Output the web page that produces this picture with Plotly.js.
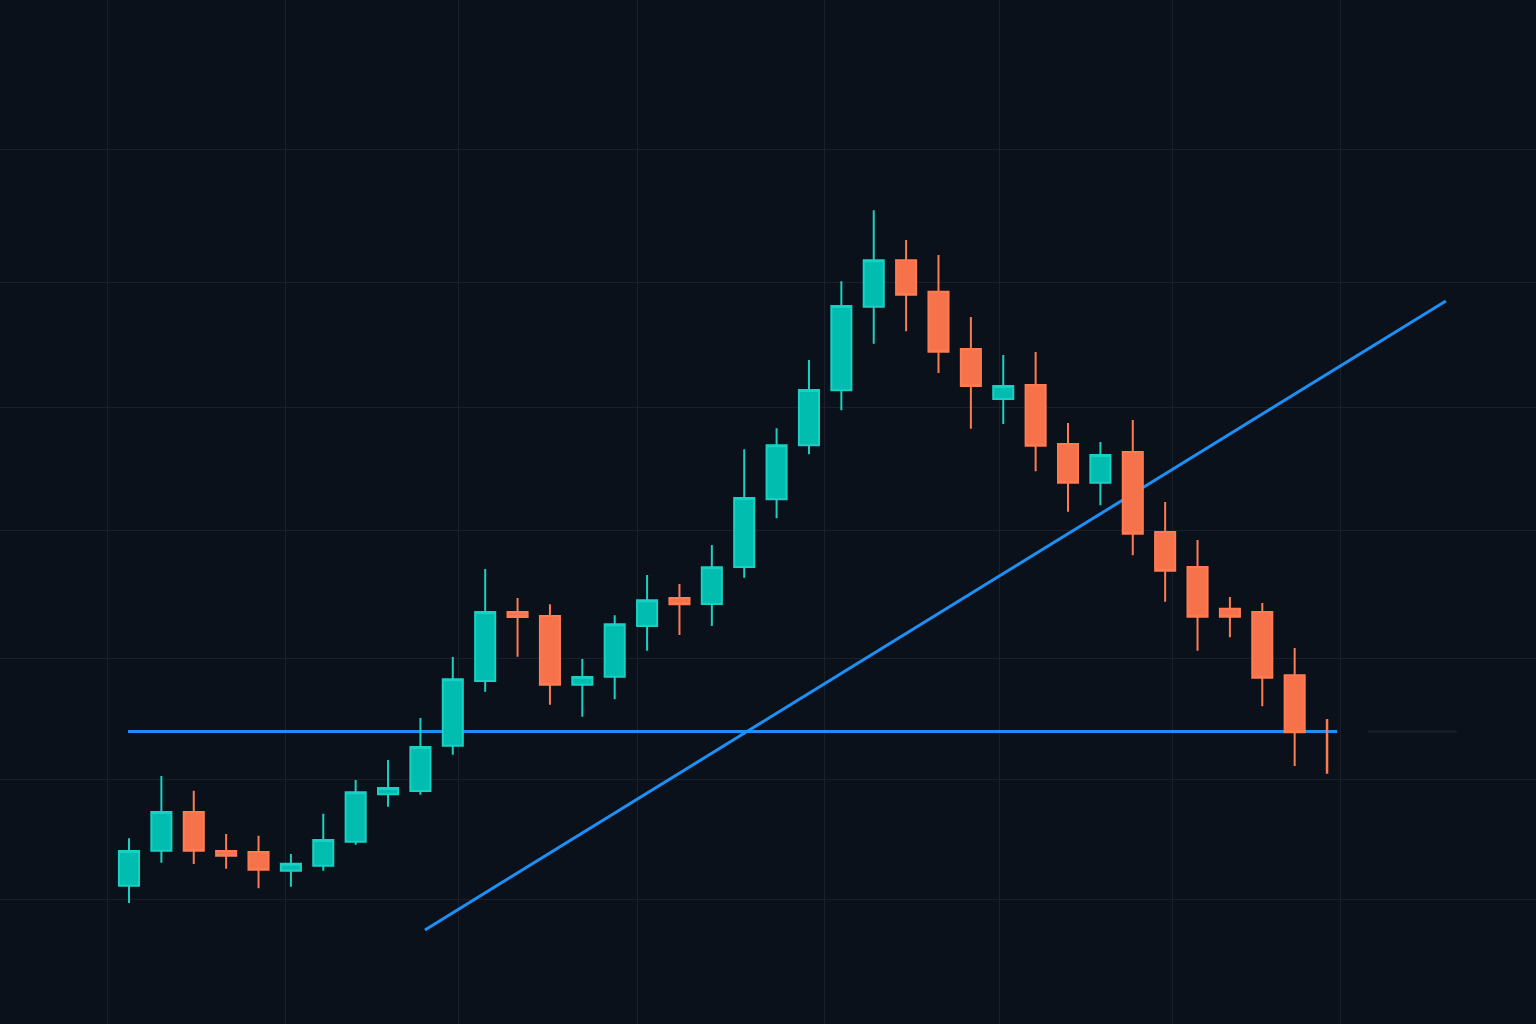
<!DOCTYPE html>
<html>
<head>
<meta charset="utf-8">
<script src="https://cdn.plot.ly/plotly-3.0.1.min.js"></script>
<style>
  html, body { margin: 0; padding: 0; background: #0b111a; }
  #chart { width: 1536px; height: 1024px; }
</style>
</head>
<body>
<div id="chart"></div>
<script>
// Candle index (session number)
const sessions = [0,1,2,3,4,5,6,7,8,9,10,11,12,13,14,15,16,17,18,19,20,21,22,23,24,25,26,27,28,29,30,31,32,33,34,35,36,37];

const opens  = [101.07,103.88,106.98,103.85,103.77,102.28,102.68,104.60,108.39,108.66,
                112.29,117.47,122.99,122.67,117.17,117.81,121.87,124.11,123.63,126.60,
                132.02,136.34,140.74,147.44,151.15,148.64,144.05,140.05,141.17,136.45,
                133.35,135.80,129.40,126.60,123.26,122.99,117.92,113.42];
const highs  = [104.87,109.86,108.68,105.21,105.08,103.61,106.84,109.54,111.14,114.50,
                119.39,126.44,124.11,123.61,119.23,122.73,125.95,125.23,128.36,136.02,
                137.70,143.17,149.47,155.16,152.78,151.58,146.62,143.57,143.81,138.13,
                136.61,138.37,131.80,128.76,124.19,123.71,120.11,114.42];
const lows   = [ 99.69,102.92,102.81,102.44,100.87,100.99,102.28,104.36,107.40,108.36,
                111.56,116.61,119.41,115.57,114.61,116.00,119.89,121.15,121.87,125.74,
                130.50,135.62,139.14,144.48,145.47,142.13,137.67,138.05,134.26,131.02,
                131.54,127.53,123.82,119.89,120.97,115.44,110.66,110.04];
const closes = [103.85,106.98,103.88,103.48,102.36,102.84,104.73,108.55,108.90,112.18,
                117.60,122.99,122.59,117.17,117.79,122.01,123.93,123.61,126.57,132.12,
                136.34,140.77,147.50,151.15,148.40,143.84,141.09,141.09,136.31,133.35,
                135.56,129.26,126.30,122.62,122.62,117.73,113.36,113.40];

// Horizontal support level
const levelX = [-0.03, 37.31];
const levelY = [113.42, 113.42];
// Faint continuation of the level
const levelExtX = [38.26, 41.01];
// Rising trend line
const trendX = [9.14, 40.67];
const trendY = [97.53, 147.90];

// Grid positions
const gridX = [-0.649, 4.818, 10.161, 15.689, 21.464, 26.869, 32.212, 37.400];
const gridY = [100.0, 109.6, 119.3, 129.5, 139.4, 149.4, 160.0];

const xRange = [-3.984, 43.453];
const yRange = [90, 172];

const UP_LINE = '#1bd0c2', UP_FILL = '#00bdb0';
const DN_LINE = '#ff7b51', DN_FILL = '#f5724a';

const n = sessions.length - 1; // last session is drawn as a bare wick

const candles = {
  type: 'candlestick',
  x: sessions.slice(0, n),
  open: opens.slice(0, n),
  high: highs.slice(0, n),
  low: lows.slice(0, n),
  close: closes.slice(0, n),
  whiskerwidth: 0,
  increasing: { line: { color: UP_LINE, width: 2 }, fillcolor: UP_FILL },
  decreasing: { line: { color: DN_LINE, width: 2 }, fillcolor: DN_FILL },
  hoverinfo: 'skip',
  showlegend: false
};

const lastBar = {
  type: 'ohlc',
  x: sessions.slice(n),
  open: opens.slice(n),
  high: highs.slice(n),
  low: lows.slice(n),
  close: closes.slice(n),
  tickwidth: 0,
  increasing: { line: { color: UP_LINE, width: 2.5 } },
  decreasing: { line: { color: DN_LINE, width: 2.5 } },
  hoverinfo: 'skip',
  showlegend: false
};

const shapes = [
  {
    type: 'line', layer: 'between', xref: 'x', yref: 'y',
    x0: levelExtX[0], x1: levelExtX[1], y0: levelY[0], y1: levelY[1],
    line: { color: 'rgba(60,70,85,0.3)', width: 2 }
  },
  {
    type: 'line', layer: 'between', xref: 'x', yref: 'y',
    x0: levelX[0], x1: levelX[1], y0: levelY[0], y1: levelY[1],
    line: { color: '#1e8ff5', width: 3 }
  },
  {
    type: 'line', layer: 'between', xref: 'x', yref: 'y',
    x0: trendX[0], x1: trendX[1], y0: trendY[0], y1: trendY[1],
    line: { color: '#1e8ff5', width: 3 }
  }
];

const layout = {
  width: 1536,
  height: 1024,
  margin: { l: 0, r: 0, t: 0, b: 0, pad: 0 },
  paper_bgcolor: '#0b111a',
  plot_bgcolor: '#0b111a',
  showlegend: false,
  hovermode: false,
  boxgap: 0.38,
  boxgroupgap: 0,
  xaxis: {
    range: xRange,
    tickmode: 'array',
    tickvals: gridX,
    showticklabels: false,
    ticks: '',
    showgrid: true,
    gridcolor: '#19202b',
    gridwidth: 1,
    zeroline: false,
    showline: false,
    rangeslider: { visible: false },
    fixedrange: true
  },
  yaxis: {
    range: yRange,
    tickmode: 'array',
    tickvals: gridY,
    showticklabels: false,
    ticks: '',
    showgrid: true,
    gridcolor: '#19202b',
    gridwidth: 1,
    zeroline: false,
    showline: false,
    fixedrange: true
  },
  shapes: shapes
};

Plotly.newPlot('chart', [candles, lastBar], layout, { displayModeBar: false, staticPlot: true });
</script>
</body>
</html>
